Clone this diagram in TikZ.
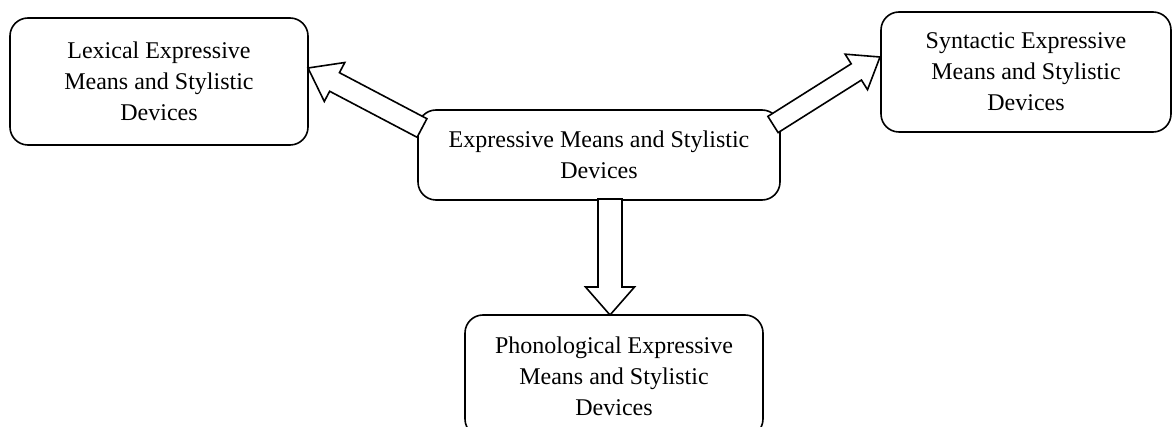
\documentclass[tikz,border=0pt]{standalone}
\usepackage{fontspec}
\setmainfont{Liberation Serif}
\usetikzlibrary{calc}
\tikzset{
  box/.style={draw, line width=1.6pt, rounded corners=18pt, align=center,
    font=\fontsize{24}{31}\selectfont, inner sep=0pt},
  blockarrow/.style={draw, fill=white, line width=1.6pt, line join=miter}
}
% #1 tail, #2 tip, #3 shaft half width, #4 head half width, #5 head length
\newcommand{\blockarr}[5]{%
  \coordinate (hb) at ($(#2)!#5!(#1)$);
  \draw[blockarrow] ($(#1)!#3!90:(#2)$) -- ($(hb)!#3!90:(#2)$) -- ($(hb)!#4!90:(#2)$)
    -- (#2) -- ($(hb)!#4!-90:(#2)$) -- ($(hb)!#3!-90:(#2)$) -- ($(#1)!#3!-90:(#2)$) -- cycle;
}
\begin{document}
\begin{tikzpicture}[x=1pt,y=-1pt]
\useasboundingbox (0,0) rectangle (1174,427);
\node[box, minimum width=298pt, minimum height=127pt] (lex) at (159,81.5)
  {Lexical Expressive\\Means and Stylistic\\Devices};
\node[box, minimum width=290pt, minimum height=120pt] (syn) at (1026,72)
  {Syntactic Expressive\\Means and Stylistic\\Devices};
\node[box, minimum width=362pt, minimum height=90pt] (cen) at (599,155)
  {Expressive Means and Stylistic\\Devices};
\node[box, minimum width=298pt, minimum height=122pt] (pho) at (614,376)
  {Phonological Expressive\\Means and Stylistic\\Devices};
\coordinate (lt) at (422,128);
\coordinate (lp) at (308,68);
\coordinate (rt) at (773,124.5);
\coordinate (rp) at (880,57);
\coordinate (dt) at (610,199);
\coordinate (dp) at (610,315);
\blockarr{lt}{lp}{10.5pt}{22pt}{30pt}
\blockarr{rt}{rp}{9.6pt}{21pt}{28pt}
\blockarr{dt}{dp}{12pt}{24.5pt}{28pt}
\end{tikzpicture}
\end{document}
